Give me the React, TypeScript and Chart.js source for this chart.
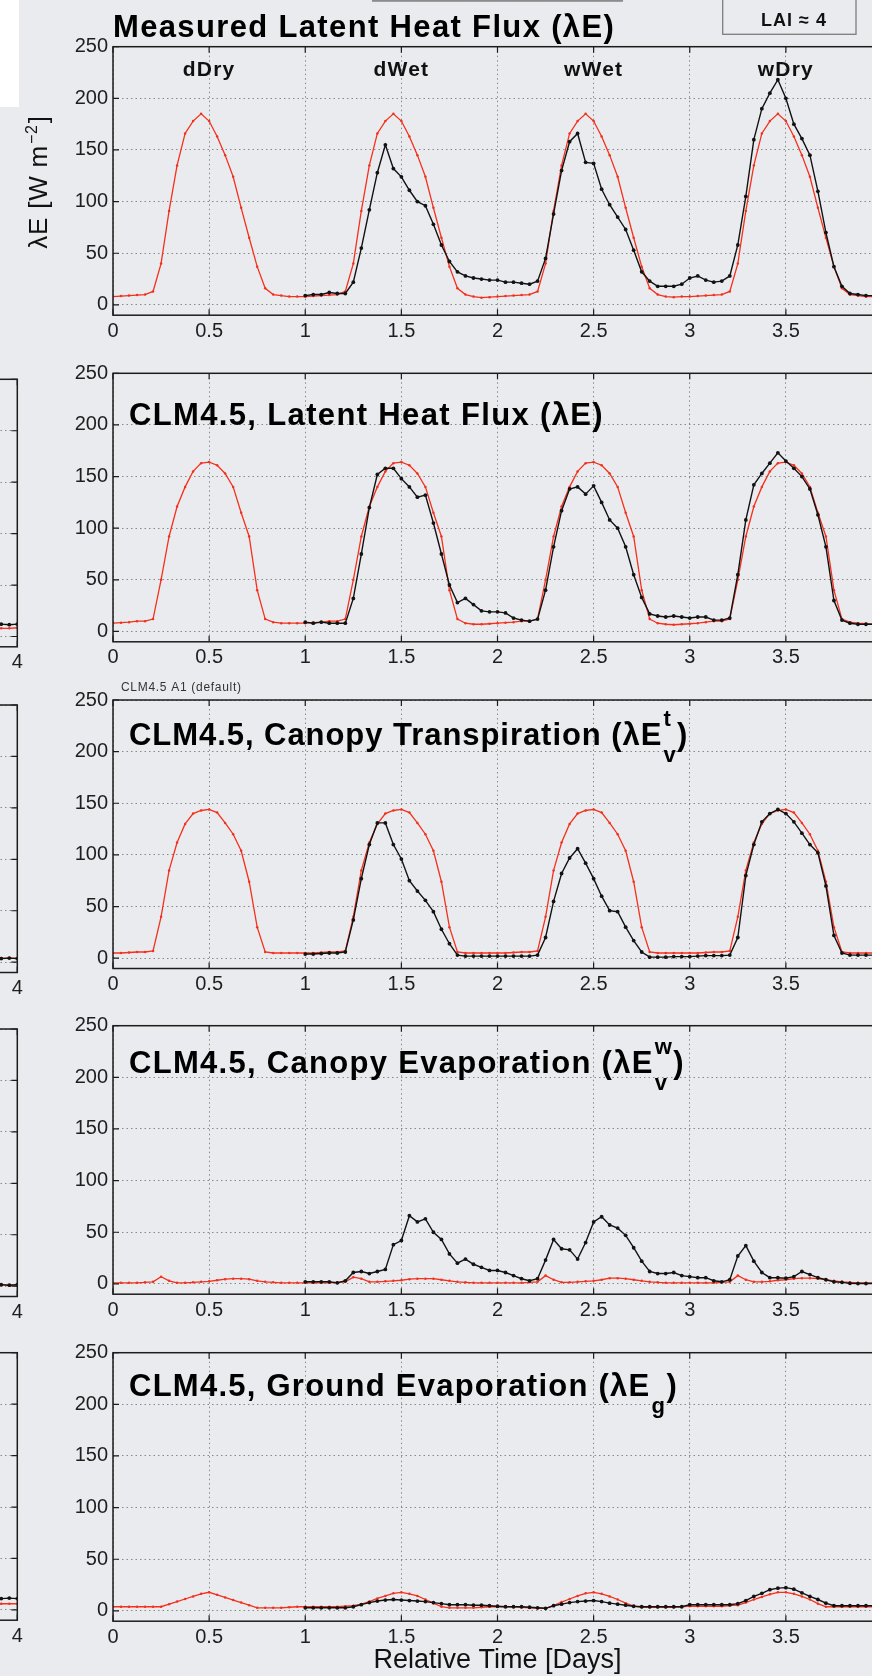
import React, { useEffect, useRef } from "react";
import { Chart, registerables } from "chart.js";

Chart.register(...registerables);

const FONT = '"Liberation Sans", Arial, Helvetica, sans-serif';
const PAGE_BG = "rgb(233,235,238)";
const RED = "#f5301d";
const BLACK = "#121212";
const AXIS = "#1c1c1c";
const GRID = "rgba(120,120,120,0.85)";

const X_MIN = 0;
const X_MAX = 4;
const Y_MIN = -10;
const Y_MAX = 250;
const xTickValues = [0, 0.5, 1, 1.5, 2, 2.5, 3, 3.5, 4];
const yTickValues = [0, 50, 100, 150, 200, 250];
const SAMPLES_PER_DAY = 24; // hourly samples, x = hour / 24 (days)
const BLACK_START_HOUR = 24; // black series start at day 1

const caseLabels = ["dDry", "dWet", "wWet", "wDry"];
const caseLabelDays = [0.5, 1.5, 2.5, 3.5];

// ---------- Panel 1: Measured latent heat flux ----------
const measuredRed = [
  8, 8.5, 9, 9.5, 10, 13, 40, 91, 135, 166, 178, 185, 178, 163, 145, 124, 94, 65, 37, 16, 10, 9, 8, 8,
  8, 8.5, 9, 9.5, 10, 13, 40, 91, 135, 166, 178, 185, 178, 163, 145, 124, 94, 65, 37, 16, 10, 8, 7, 7.5,
  8, 8.5, 9, 9.5, 10, 13, 40, 91, 135, 166, 178, 185, 178, 163, 145, 124, 94, 65, 37, 16, 10, 8, 7.5, 8,
  8, 8.5, 9, 9.5, 10, 13, 40, 91, 135, 166, 178, 185, 178, 163, 145, 124, 94, 65, 37, 16, 10, 9, 8, 8,
  8,
];
const measuredBlack = [
  9, 10, 10, 12, 11, 11, 22, 55, 92, 128, 155, 132, 124, 111, 100, 96, 78, 58, 42, 32, 28, 26, 25, 24,
  24, 22, 22, 21, 20, 23, 45, 88, 130, 158, 166, 138, 137, 112, 97, 85, 73, 53, 32, 23, 18, 18, 18, 20,
  26, 28, 24, 22, 23, 28, 58, 105, 160, 190, 205, 218, 200, 175, 161, 145, 110, 70, 37, 18, 11, 10, 9, 9,
  8,
];

// ---------- Panel 2: CLM4.5 latent heat flux ----------
const clmLatentRed = [
  8, 8.5, 9, 10, 10, 12, 50, 92, 121, 140, 155, 163, 164, 161, 153, 140, 115, 92, 40, 12, 9, 8, 8, 8,
  8, 8.5, 9, 10, 10, 12, 50, 92, 121, 140, 155, 163, 164, 161, 153, 140, 115, 92, 40, 12, 8, 7, 7, 7.5,
  8, 8.5, 9, 10, 10, 12, 50, 92, 121, 140, 155, 163, 164, 161, 153, 140, 115, 92, 40, 12, 8, 7, 6.5, 7,
  7.5, 8, 9, 10, 10, 12, 50, 92, 121, 140, 155, 163, 164, 161, 153, 140, 115, 92, 40, 12, 9, 8, 7.5, 7,
  7,
];
const clmLatentBlack = [
  9, 8, 9, 8, 8, 8, 32, 75, 120, 152, 158, 158, 148, 140, 130, 132, 105, 75, 45, 28, 32, 26, 20, 19,
  19, 18, 13, 11, 10, 12, 40, 82, 117, 138, 140, 133, 141, 125, 108, 100, 82, 55, 33, 17, 15, 14, 15, 14,
  13, 14, 14, 11, 11, 13, 55, 108, 142, 153, 163, 173, 165, 158, 150, 138, 113, 82, 30, 11, 8, 7, 7, 7,
  7,
];

// ---------- Panel 3: CLM4.5 canopy transpiration ----------
const transRed = [
  5, 5, 5.5, 6, 6, 7, 40, 85, 112, 130, 140, 143, 144, 141, 131, 120, 104, 74, 30, 6, 5, 5, 5, 5,
  5, 5, 5.5, 6, 6, 7, 40, 85, 112, 130, 140, 143, 144, 141, 131, 120, 104, 74, 30, 6, 5, 5, 5, 5,
  5, 5, 5.5, 6, 6, 7, 40, 85, 112, 130, 140, 143, 144, 141, 131, 120, 104, 74, 30, 6, 5, 5, 5, 5,
  5, 5, 5.5, 6, 6, 7, 40, 85, 112, 130, 140, 143, 144, 141, 131, 120, 104, 74, 30, 6, 5, 5, 5, 5,
  5,
];
const transBlack = [
  4, 4, 4.5, 5, 5, 6, 37, 77, 110, 131, 131, 110, 96, 75, 65, 56, 45, 28, 14, 3, 2, 2, 2, 2,
  2, 2, 2, 2, 2, 3, 20, 55, 82, 97, 106, 92, 77, 60, 46, 45, 30, 17, 6, 1, 1, 1, 1.5, 1.5,
  1.5, 2, 2.5, 2.5, 2.5, 3, 20, 80, 110, 132, 140, 144, 140, 132, 121, 110, 102, 70, 22, 5, 3, 3, 3, 3,
  3,
];

// ---------- Panel 4: CLM4.5 canopy evaporation ----------
const evapRed = [
  1, 1, 1, 1, 1.5, 2, 7, 3, 1, 1, 1.5, 2, 2.5, 3.5, 4.5, 5, 5, 4.5, 3, 2, 1.5, 1, 1, 1,
  1, 1, 1, 1, 1.5, 2, 6.5, 5, 2, 2, 2.5, 3, 3.5, 4.5, 5, 5, 5, 4, 3, 2, 1.5, 1, 1, 1,
  1, 1, 1, 1, 1.5, 2, 8, 4, 1.5, 1.5, 2, 2.5, 3, 4, 5.5, 5.5, 5, 4, 3, 2, 1.5, 1, 1, 1,
  1, 1, 1, 1, 1.5, 2, 8, 4, 2, 2, 2.5, 3.5, 4, 5, 5.5, 5.5, 5, 4, 3, 2, 1.5, 1, 1, 1,
  1,
];
const evapBlack = [
  2, 2, 2, 2, 1, 3, 11, 12, 10, 12, 14, 38, 42, 66, 60, 63, 50, 43, 29, 20, 24, 19, 16, 13,
  13, 11, 8, 5, 3, 5, 23, 43, 34, 33, 24, 40, 60, 65, 57, 54, 47, 35, 22, 12, 10, 10, 11, 8,
  7, 6, 6, 3, 2, 4, 27, 37, 22, 11, 6, 6, 5.5, 7, 12, 9, 6, 4, 2, 1.5, 0.5, 0.3, 0.3, 0.3,
  0.3,
];

// ---------- Panel 5: CLM4.5 ground evaporation ----------
const groundRed = [
  4, 4, 4, 4, 4, 4, 4, 6.5, 9, 11.5, 14, 16.5, 18, 15.5, 13, 10.5, 8, 5.5, 3, 3, 3, 3, 3.5, 4,
  4, 4, 4, 4, 4, 4.5, 5, 6.5, 9, 12, 14.5, 17, 18, 16.5, 14.5, 11, 7.5, 4, 3, 3, 3, 3, 3.5, 4,
  4, 4, 4, 3.5, 3, 2.5, 2.5, 5, 8.5, 11.5, 14.5, 17, 18, 16.5, 14, 11, 7.5, 4.5, 3.5, 3.5, 3.5, 3.5, 3.5, 4,
  4.5, 4.5, 4.5, 4.5, 4.5, 5, 5.5, 8, 11, 13.5, 16, 18, 18, 16.5, 14, 11, 7, 4, 4, 4, 4, 4, 4, 4,
  4,
];
const groundBlack = [
  3, 3, 3, 3, 3, 3, 4, 6, 8, 9.5, 10.5, 11, 10.5, 10, 9.5, 9, 8, 7, 6, 6, 6, 5.5, 5.5, 5,
  4.5, 4, 4, 4, 3.5, 3, 2.5, 5, 6.5, 8, 9, 9.5, 10, 9, 7.5, 6.5, 5.5, 4.5, 4, 4, 4, 4, 4, 4,
  6, 6, 6, 6, 6, 6, 7, 10, 14, 17, 20.5, 22, 22.5, 21, 17.5, 14, 11, 7.5, 5, 5, 5, 5, 5, 5,
  5,
];

// ---------- Cut-off panels on the left (only their last hours are visible) ----------
const TAIL_START_HOUR = 93;
const tailLatentBlack = [12, 12, 11.5, 12];
const tailLatentRed = [8.5, 8, 8, 8.5];
const tailTransBlack = [3.5, 3.5, 4, 3.5];
const tailTransRed = [4, 4, 4, 4];
const tailEvapBlack = [1.5, 1.5, 1, 1.5];
const tailEvapRed = [1, 1, 1, 1];
const tailGroundBlack = [11, 11, 11.5, 11];
const tailGroundRed = [6, 6, 6, 6];

// ---------- layout constants ----------
const CANVAS_H = 372;
const RIGHT_W = 900;
const PLOT_LEFT = 113;
const PLOT_RIGHT_PAD = 18;
const PLOT_H = 268.5;
const LEFT_CANVAS_X = -185;
const LEFT_W = 223;
const LEFT_PAD_L = 10;
const LEFT_PAD_R = 20.7;
const LEFT_PLOT_H = 267.5;

function toPoints(values: number[], startHour: number) {
  return values.map((v, i) => ({ x: (startHour + i) / SAMPLES_PER_DAY, y: v }));
}

function setSpacing(ctx: any, px: number) {
  if ("letterSpacing" in ctx) ctx.letterSpacing = px + "px";
}

type TitleSpec = { main: string; sup?: string; sub?: string; tail?: string; spacing?: number };

interface PanelSpec {
  id: string;
  plotTop: number;
  title: TitleSpec;
  titleX: number;
  titleBaseline: number;
  red: number[];
  black: number[];
  header?: boolean;
  note?: string;
  xTitle?: string;
}

const rightPanels: PanelSpec[] = [
  {
    id: "p1",
    plotTop: 46.7,
    title: { main: "Measured Latent Heat Flux (λE)", spacing: 1.35 },
    titleX: 113,
    titleBaseline: 37,
    red: measuredRed,
    black: measuredBlack,
    header: true,
  },
  {
    id: "p2",
    plotTop: 373.3,
    title: { main: "CLM4.5, Latent Heat Flux (λE)", spacing: 1.35 },
    titleX: 129,
    titleBaseline: 425,
    red: clmLatentRed,
    black: clmLatentBlack,
  },
  {
    id: "p3",
    plotTop: 700,
    title: { main: "CLM4.5, Canopy Transpiration (λE", sup: "t", sub: "v", tail: ")", spacing: 0.95 },
    titleX: 129,
    titleBaseline: 745,
    red: transRed,
    black: transBlack,
    note: "CLM4.5 A1 (default)",
  },
  {
    id: "p4",
    plotTop: 1025.7,
    title: { main: "CLM4.5, Canopy Evaporation (λE", sup: "w", sub: "v", tail: ")", spacing: 1.3 },
    titleX: 129,
    titleBaseline: 1073.3,
    red: evapRed,
    black: evapBlack,
  },
  {
    id: "p5",
    plotTop: 1352.7,
    title: { main: "CLM4.5, Ground Evaporation (λE", sub: "g", tail: ")", spacing: 1.25 },
    titleX: 129,
    titleBaseline: 1396,
    red: groundRed,
    black: groundBlack,
    xTitle: "Relative Time [Days]",
  },
];

const leftPanels = [
  { id: "l2", plotTop: 379.3, black: tailLatentBlack, red: tailLatentRed },
  { id: "l3", plotTop: 705, black: tailTransBlack, red: tailTransRed },
  { id: "l4", plotTop: 1029, black: tailEvapBlack, red: tailEvapRed },
  { id: "l5", plotTop: 1352.7, black: tailGroundBlack, red: tailGroundRed },
];

function drawTitle(ctx: any, x: number, y: number, t: TitleSpec) {
  const sp = t.spacing ?? 1.35;
  ctx.save();
  ctx.fillStyle = "#000";
  ctx.textAlign = "left";
  ctx.textBaseline = "alphabetic";
  ctx.font = `bold 31px ${FONT}`;
  setSpacing(ctx, sp);
  ctx.fillText(t.main, x, y);
  let cx = x + ctx.measureText(t.main).width;
  if (t.sup || t.sub) {
    ctx.font = `bold 22px ${FONT}`;
    setSpacing(ctx, 0.5);
    let w = 0;
    if (t.sup) {
      ctx.fillText(t.sup, cx + 1, y - 19);
      w = Math.max(w, ctx.measureText(t.sup).width);
    }
    if (t.sub) {
      ctx.fillText(t.sub, cx + 1, y + 17);
      w = Math.max(w, ctx.measureText(t.sub).width);
    }
    cx += w + 2;
  }
  if (t.tail) {
    ctx.font = `bold 31px ${FONT}`;
    setSpacing(ctx, sp);
    ctx.fillText(t.tail, cx, y);
  }
  setSpacing(ctx, 0);
  ctx.restore();
}

function drawFrame(chart: any) {
  const { ctx, chartArea: a, scales } = chart;
  const xs = scales.x;
  const ys = scales.y;
  ctx.save();
  ctx.strokeStyle = AXIS;
  ctx.lineWidth = 1.2;
  ctx.beginPath();
  for (const v of xTickValues) {
    if (v < xs.min - 1e-9 || v > xs.max + 1e-9) continue;
    const px = xs.getPixelForValue(v);
    ctx.moveTo(px, a.top);
    ctx.lineTo(px, a.top + 6);
    ctx.moveTo(px, a.bottom);
    ctx.lineTo(px, a.bottom - 6);
  }
  for (const v of yTickValues) {
    const py = ys.getPixelForValue(v);
    ctx.moveTo(a.left, py);
    ctx.lineTo(a.left + 6, py);
    ctx.moveTo(a.right, py);
    ctx.lineTo(a.right - 6, py);
  }
  ctx.stroke();
  ctx.lineWidth = 1.5;
  ctx.strokeRect(a.left, a.top, a.right - a.left, a.bottom - a.top);
  ctx.restore();
}

function makeDecor(spec: PanelSpec | null, canvasTop: number) {
  const cy = (absY: number) => absY - canvasTop;
  return {
    id: "decor",
    beforeDraw(chart: any) {
      if (!spec || !spec.header) return;
      const ctx = chart.ctx;
      ctx.save();
      ctx.fillStyle = "#ffffff";
      ctx.fillRect(0, cy(0), 19, 107);
      ctx.fillStyle = "#8c8c8c";
      ctx.fillRect(372, cy(0), 251, 1.8);
      ctx.strokeStyle = "#7d7d7d";
      ctx.lineWidth = 1.3;
      ctx.strokeRect(722.7, cy(-2), 133.3, 36.3);
      ctx.fillStyle = "#111";
      ctx.font = `bold 18px ${FONT}`;
      setSpacing(ctx, 1);
      ctx.textAlign = "center";
      ctx.textBaseline = "alphabetic";
      ctx.fillText("LAI ≈ 4", 794, cy(26));
      setSpacing(ctx, 0);
      ctx.restore();
    },
    afterDraw(chart: any) {
      drawFrame(chart);
      if (!spec) return;
      const ctx = chart.ctx;
      const xs = chart.scales.x;
      drawTitle(ctx, spec.titleX, cy(spec.titleBaseline), spec.title);
      ctx.save();
      if (spec.header) {
        ctx.fillStyle = "#111";
        ctx.font = `bold 21px ${FONT}`;
        setSpacing(ctx, 1.2);
        ctx.textAlign = "center";
        ctx.textBaseline = "alphabetic";
        caseLabels.forEach((lab, i) => {
          ctx.fillText(lab, xs.getPixelForValue(caseLabelDays[i]), cy(76));
        });
        // y axis label, rotated
        ctx.translate(47, cy(182));
        ctx.rotate(-Math.PI / 2);
        ctx.textAlign = "left";
        setSpacing(ctx, 0.8);
        const partA = "λE [W m";
        const partSup = "−2";
        const partB = "]";
        ctx.font = `26px ${FONT}`;
        const wA = ctx.measureText(partA).width;
        const wB = ctx.measureText(partB).width;
        ctx.font = `16px ${FONT}`;
        const wS = ctx.measureText(partSup).width;
        let x0 = -(wA + wS + wB + 2) / 2;
        ctx.font = `26px ${FONT}`;
        ctx.fillText(partA, x0, 0);
        x0 += wA + 1;
        ctx.font = `16px ${FONT}`;
        ctx.fillText(partSup, x0, -10);
        x0 += wS + 1;
        ctx.font = `26px ${FONT}`;
        ctx.fillText(partB, x0, 0);
        setSpacing(ctx, 0);
      }
      ctx.restore();
      if (spec.note) {
        ctx.save();
        ctx.fillStyle = "#333";
        ctx.font = `12px ${FONT}`;
        setSpacing(ctx, 0.7);
        ctx.textAlign = "left";
        ctx.textBaseline = "alphabetic";
        ctx.fillText(spec.note, 121, cy(691));
        setSpacing(ctx, 0);
        ctx.restore();
      }
    },
  };
}

function makeDatasets(red: number[], redStart: number, black: number[], blackStart: number) {
  return [
    {
      label: "black",
      data: toPoints(black, blackStart),
      borderColor: BLACK,
      backgroundColor: BLACK,
      pointBackgroundColor: BLACK,
      borderWidth: 1.4,
      pointRadius: 1.9,
      pointBorderWidth: 0,
      pointHoverRadius: 0,
      tension: 0,
      fill: false,
      order: 1,
    },
    {
      label: "red",
      data: toPoints(red, redStart),
      borderColor: RED,
      backgroundColor: RED,
      pointBackgroundColor: RED,
      borderWidth: 1.3,
      pointRadius: 1.25,
      pointBorderWidth: 0,
      pointHoverRadius: 0,
      tension: 0,
      fill: false,
      order: 2,
    },
  ];
}

function buildConfig(o: {
  xMin: number;
  xMax: number;
  padTop: number;
  padLeft: number;
  padRight: number;
  plotH: number;
  yAxisW: number;
  showYTicks: boolean;
  xTitle?: string;
  datasets: any[];
  plugin: any;
}) {
  const xAxisH = CANVAS_H - o.padTop - o.plotH;
  const tickFont = { family: FONT, size: 20 };
  return {
    type: "line",
    data: { datasets: o.datasets },
    options: {
      responsive: false,
      animation: false,
      events: [],
      layout: { padding: { left: o.padLeft, right: o.padRight, top: o.padTop, bottom: 0 } },
      plugins: { legend: { display: false }, tooltip: { enabled: false }, title: { display: false } },
      scales: {
        x: {
          type: "linear",
          min: o.xMin,
          max: o.xMax,
          afterBuildTicks: (s: any) => {
            s.ticks = xTickValues
              .filter((v) => v >= o.xMin - 1e-9 && v <= o.xMax + 1e-9)
              .map((v) => ({ value: v }));
          },
          afterFit: (s: any) => {
            s.height = xAxisH;
          },
          ticks: {
            stepSize: 0.5,
            autoSkip: false,
            maxRotation: 0,
            padding: 4,
            color: "#1e1e1e",
            font: tickFont,
            callback: (v: any) => String(v),
          },
          grid: { color: GRID, lineWidth: 1, drawTicks: false },
          border: { display: false, dash: [1.5, 3] },
          title: o.xTitle
            ? {
                display: true,
                text: o.xTitle,
                color: "#111",
                font: { family: FONT, size: 27 },
                padding: { top: 0, bottom: 0 },
              }
            : { display: false },
        },
        y: {
          type: "linear",
          min: Y_MIN,
          max: Y_MAX,
          afterBuildTicks: (s: any) => {
            s.ticks = yTickValues.map((v) => ({ value: v }));
          },
          afterFit: (s: any) => {
            s.width = o.yAxisW;
          },
          ticks: {
            display: o.showYTicks,
            padding: 5,
            color: "#1e1e1e",
            font: tickFont,
            callback: (v: any) => String(v),
          },
          grid: { color: GRID, lineWidth: 1, drawTicks: false },
          border: { display: false, dash: [1.5, 3] },
        },
      },
    },
    plugins: [o.plugin],
  };
}

function ChartCanvas(props: { left: number; top: number; width: number; height: number; make: () => any }) {
  const ref = useRef<HTMLCanvasElement | null>(null);
  useEffect(() => {
    if (!ref.current) return;
    const chart = new Chart(ref.current, props.make());
    return () => chart.destroy();
  }, []);
  return (
    <canvas
      ref={ref}
      width={props.width}
      height={props.height}
      style={{ position: "absolute", left: props.left, top: props.top, width: props.width, height: props.height }}
    />
  );
}

function RightPanel({ spec }: { spec: PanelSpec }) {
  const canvasTop = Math.floor(spec.plotTop) - 47;
  const padTop = spec.plotTop - canvasTop;
  return (
    <ChartCanvas
      left={0}
      top={canvasTop}
      width={RIGHT_W}
      height={CANVAS_H}
      make={() =>
        buildConfig({
          xMin: X_MIN,
          xMax: X_MAX,
          padTop,
          padLeft: 0,
          padRight: PLOT_RIGHT_PAD,
          plotH: PLOT_H,
          yAxisW: PLOT_LEFT,
          showYTicks: true,
          xTitle: spec.xTitle,
          datasets: makeDatasets(spec.red, 0, spec.black, BLACK_START_HOUR),
          plugin: makeDecor(spec, canvasTop),
        })
      }
    />
  );
}

function LeftPanel({ spec }: { spec: { id: string; plotTop: number; black: number[]; red: number[] } }) {
  const canvasTop = Math.floor(spec.plotTop) - 47;
  const padTop = spec.plotTop - canvasTop;
  return (
    <ChartCanvas
      left={LEFT_CANVAS_X}
      top={canvasTop}
      width={LEFT_W}
      height={CANVAS_H}
      make={() =>
        buildConfig({
          xMin: 3,
          xMax: 4,
          padTop,
          padLeft: LEFT_PAD_L,
          padRight: LEFT_PAD_R,
          plotH: LEFT_PLOT_H,
          yAxisW: 0,
          showYTicks: false,
          datasets: makeDatasets(spec.red, TAIL_START_HOUR, spec.black, TAIL_START_HOUR),
          plugin: makeDecor(null, canvasTop),
        })
      }
    />
  );
}

export default function App() {
  return (
    <div
      style={{
        position: "absolute",
        left: 0,
        top: 0,
        width: 872,
        height: 1676,
        overflow: "hidden",
        background: PAGE_BG,
      }}
    >
      {rightPanels.map((p) => (
        <RightPanel key={p.id} spec={p} />
      ))}
      {leftPanels.map((p) => (
        <LeftPanel key={p.id} spec={p} />
      ))}
    </div>
  );
}
